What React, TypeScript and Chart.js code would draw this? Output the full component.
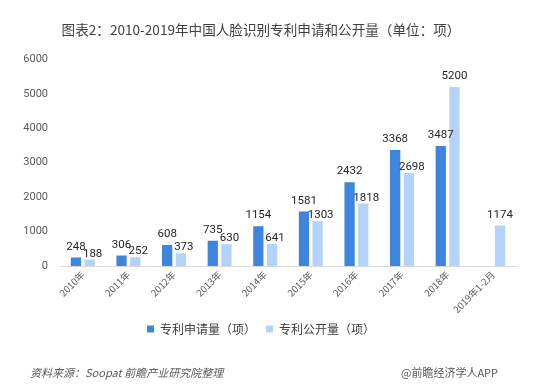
import React, { useEffect, useRef } from "react";
import { Chart, registerables } from "chart.js";

Chart.register(...registerables);

const categories = ["2010年", "2011年", "2012年", "2013年", "2014年", "2015年", "2016年", "2017年", "2018年", "2019年1-2月"];
const applications: (number | null)[] = [248, 306, 608, 735, 1154, 1581, 2432, 3368, 3487, null];
const publications: number[] = [188, 252, 373, 630, 641, 1303, 1818, 2698, 5200, 1174];
const yTicks = [0, 1000, 2000, 3000, 4000, 5000, 6000];

const titleText = "图表2：2010-2019年中国人脸识别专利申请和公开量（单位：项）";
const sourceText = "资料来源：Soopat 前瞻产业研究院整理";
const brandText = "@前瞻经济学人APP";

const FONT = "'Noto Sans CJK SC', 'Microsoft YaHei', sans-serif";
const NUMFONT = "Roboto, 'Noto Sans', sans-serif";

const labelPlugin = {
  id: "barLabels",
  afterDatasetsDraw(chart: any) {
    const ctx = chart.ctx;
    ctx.save();
    ctx.font = `11.5px ${NUMFONT}`;
    ctx.fillStyle = "#262626";
    ctx.textAlign = "center";
    ctx.textBaseline = "bottom";
    const dark = chart.data.datasets[0].data;
    chart.data.datasets.forEach((ds: any, di: number) => {
      const meta = chart.getDatasetMeta(di);
      meta.data.forEach((el: any, i: number) => {
        const v = ds.data[i];
        if (v === null || v === undefined) return;
        let dx = 0;
        let dy = 5;
        if (di === 1 && dark[i] !== null && v < (dark[i] as number)) {
          dx = 3;
          dy = 0;
        }
        ctx.fillText(String(v), el.x + dx, el.y - dy);
      });
    });
    ctx.restore();
  },
};

const footerPlugin = {
  id: "footer",
  afterDraw(chart: any) {
    const ctx = chart.ctx;
    ctx.save();
    ctx.fillStyle = "#595959";
    ctx.textBaseline = "middle";
    ctx.font = `italic 11px ${FONT}`;
    ctx.textAlign = "left";
    ctx.fillText(sourceText, 30, 373);
    ctx.font = `11px ${FONT}`;
    ctx.textAlign = "right";
    ctx.fillText(brandText, 498, 373);
    ctx.restore();
  },
};

export default function App() {
  const ref = useRef<HTMLCanvasElement>(null);
  useEffect(() => {
    if (!ref.current) return;
    const chart = new Chart(ref.current, {
      type: "bar",
      data: {
        labels: categories,
        datasets: [
          {
            label: "专利申请量（项）",
            data: applications,
            backgroundColor: "#3E85E0",
            categoryPercentage: 0.6,
            barPercentage: 0.75,
          },
          {
            label: "专利公开量（项）",
            data: publications,
            backgroundColor: "#B4D3F8",
            categoryPercentage: 0.6,
            barPercentage: 0.75,
          },
        ],
      },
      options: {
        responsive: false,
        animation: false,
        layout: { padding: { left: 6, right: 25, top: 0, bottom: 42 } },
        plugins: {
          title: {
            display: true,
            text: titleText,
            color: "#404040",
            font: { family: FONT, size: 13.6, weight: "normal" },
            padding: { top: 22, bottom: 21 },
          },
          legend: {
            position: "bottom",
            labels: {
              boxWidth: 7,
              boxHeight: 7,
              color: "#404040",
              font: { family: FONT, size: 12 },
              padding: 10,
            },
          },
          tooltip: { enabled: false },
        },
        scales: {
          x: {
            afterFit(axis: any) {
              axis.height = 47;
            },
            grid: { display: false, drawTicks: false },
            border: { color: "#D9D9D9" },
            ticks: {
              color: "#595959",
              font: { family: FONT, size: 9.5 },
              minRotation: 45,
              maxRotation: 45,
              padding: 3,
            },
          },
          y: {
            min: 0,
            max: 6000,
            afterBuildTicks(axis: any) {
              axis.ticks = yTicks.map((v) => ({ value: v }));
            },
            afterFit(axis: any) {
              axis.width = 54;
            },
            grid: { display: false, drawTicks: false },
            border: { display: false },
            ticks: {
              color: "#595959",
              font: { family: NUMFONT, size: 11 },
              padding: 12,
              callback: (v: any) => String(v),
            },
          },
        },
      } as any,
      plugins: [labelPlugin, footerPlugin],
    });
    return () => chart.destroy();
  }, []);
  return (
    <div style={{ position: "absolute", left: 0, top: 0, width: 541, height: 387, background: "#fff" }}>
      <canvas ref={ref} width={541} height={387} style={{ display: "block" }} />
    </div>
  );
}
